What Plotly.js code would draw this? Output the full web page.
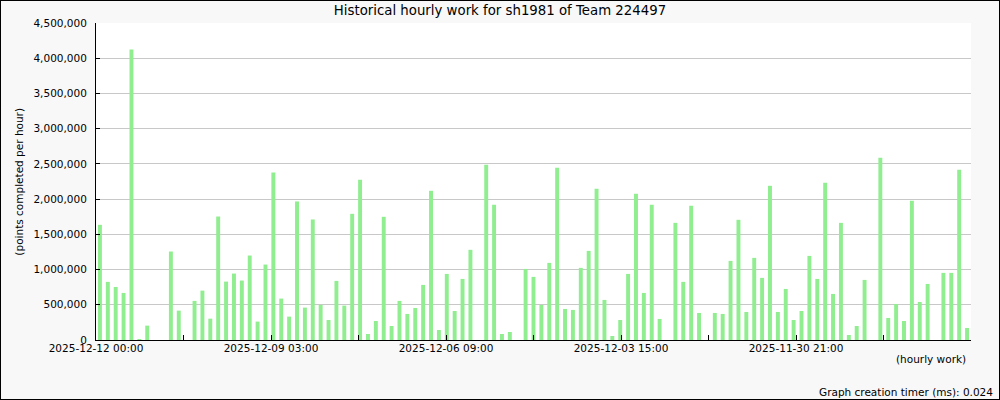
<!DOCTYPE html>
<html>
<head>
<meta charset="utf-8">
<script src="https://cdn.plot.ly/plotly-3.0.1.min.js"></script>
<style>
  html, body { margin: 0; padding: 0; background: #f8f8f8; }
  #wrap { position: relative; width: 1000px; height: 400px; }
  #chart { width: 1000px; height: 400px; }
  #frame { position: absolute; left: 0; top: 0; width: 1000px; height: 400px; box-sizing: border-box; border: 1px solid #000; pointer-events: none; }
</style>
</head>
<body>
<div id="wrap"><div id="chart"></div><div id="frame"></div></div>
<script>
// Hourly work values (points completed per hour), in display order (left to right)
const hourlyPoints = [
  1635000, 825000, 753000, 668000, 4123000, 14000, 204000, 0, 0, 1256000,
  417000, 0, 555000, 701000, 303000, 1753000, 829000, 943000, 844000, 1199000,
  261000, 1071000, 2379000, 588000, 332000, 1967000, 460000, 1711000, 498000, 284000,
  839000, 488000, 1791000, 2275000, 85000, 270000, 1749000, 199000, 555000, 370000,
  455000, 782000, 2118000, 142000, 938000, 412000, 867000, 1280000, 0, 2488000,
  1919000, 85000, 114000, 0, 1009000, 896000, 498000, 1095000, 2445000, 441000,
  427000, 1024000, 1265000, 2147000, 569000, 57000, 284000, 938000, 2076000, 668000,
  1919000, 299000, 0, 1663000, 825000, 1905000, 384000, 0, 384000, 370000,
  1123000, 1706000, 398000, 1166000, 882000, 2189000, 398000, 725000, 284000, 412000,
  1194000, 867000, 2232000, 654000, 1663000, 71000, 199000, 853000, 0, 2587000,
  313000, 512000, 270000, 1976000, 540000, 796000, 0, 953000, 953000, 2417000,
  171000
];

// X tick labels (every other tick carries a label)
const xTickLabels = [
  "2025-12-12 00:00", "", "2025-12-09 03:00", "", "2025-12-06 09:00", "",
  "2025-12-03 15:00", "", "2025-11-30 21:00", "", ""
];

const titleText = "Historical hourly work for sh1981 of Team 224497";
const yTitleText = "(points completed per hour)";
const xTitleText = "(hourly work)";
const footerText = "Graph creation timer (ms): 0.024";

const n = hourlyPoints.length;
const xs = hourlyPoints.map((_, i) => i + 0.5);
const tickCount = xTickLabels.length - 1;
const tickVals = xTickLabels.map((_, k) => k * n / tickCount);

const FONT = "DejaVu Sans, sans-serif";

const trace = {
  type: "bar",
  x: xs,
  y: hourlyPoints,
  width: 0.5,
  marker: { color: "#90ee90", line: { width: 0 } },
  hoverinfo: "y"
};

const layout = {
  width: 1000,
  height: 400,
  margin: { l: 96, r: 29, t: 23, b: 60, pad: 0 },
  paper_bgcolor: "#f8f8f8",
  plot_bgcolor: "#ffffff",
  showlegend: false,
  font: { family: FONT, size: 10.5, color: "#000" },
  title: {
    text: titleText,
    font: { family: FONT, size: 13.3, color: "#000" },
    x: 0.5, xref: "container", xanchor: "center",
    y: 0.974, yref: "container", yanchor: "middle"
  },
  xaxis: {
    range: [0, n],
    tickmode: "array",
    tickvals: tickVals,
    ticktext: xTickLabels,
    ticks: "inside",
    ticklen: 5,
    tickwidth: 1,
    tickcolor: "#000",
    showline: true,
    linecolor: "#000",
    linewidth: 1,
    showgrid: false,
    zeroline: false,
    tickangle: 0,
    ticklabelstandoff: -2,
    tickfont: { family: FONT, size: 10.5, color: "#000" },
    fixedrange: true
  },
  yaxis: {
    range: [0, 4500000],
    dtick: 500000,
    tick0: 0,
    tickformat: ",d",
    ticks: "inside",
    ticklen: 4,
    tickwidth: 1,
    tickcolor: "#000",
    showline: true,
    linecolor: "#000",
    linewidth: 1,
    showgrid: true,
    gridcolor: "#c8c8c8",
    gridwidth: 1,
    zeroline: false,
    ticklabelstandoff: 6,
    tickfont: { family: FONT, size: 10.5, color: "#000" },
    fixedrange: true
  },
  annotations: [
    {
      text: yTitleText, textangle: -90, showarrow: false,
      xref: "paper", yref: "paper", x: -0.089, y: 0.5,
      xanchor: "center", yanchor: "middle",
      font: { family: FONT, size: 10.5, color: "#000" }
    },
    {
      text: xTitleText, showarrow: false,
      xref: "paper", yref: "paper", x: 0.9966, y: -0.06,
      xanchor: "right", yanchor: "middle",
      font: { family: FONT, size: 10.5, color: "#000" }
    },
    {
      text: footerText, showarrow: false,
      xref: "paper", yref: "paper", x: 1.0274, y: -0.164,
      xanchor: "right", yanchor: "middle",
      font: { family: FONT, size: 10.5, color: "#000" }
    }
  ]
};

Plotly.newPlot("chart", [trace], layout, { displayModeBar: false, staticPlot: true });
</script>
</body>
</html>
